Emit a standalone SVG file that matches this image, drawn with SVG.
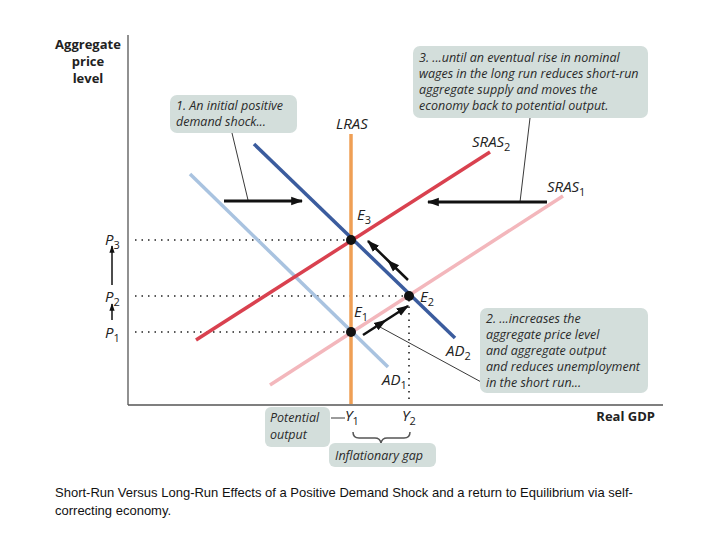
<svg xmlns="http://www.w3.org/2000/svg" width="720" height="540" viewBox="0 0 720 540">
<style>
.ax{stroke:#555;stroke-width:1.3;fill:none}
.lbl{font-family:"Open Sans","Liberation Sans",sans-serif;font-weight:bold;font-size:13px;fill:#222}
.it{font-family:"Open Sans","Liberation Sans",sans-serif;font-style:italic;font-size:12.5px;fill:#2a2a2a}
.var{font-family:"Open Sans","Liberation Sans",sans-serif;font-style:italic;font-size:15px;fill:#222}
.sub{font-size:11px;font-style:normal}
.box{fill:#d3dedb}
.dot{stroke:#222;stroke-width:1.6;stroke-dasharray:1.5 5;fill:none}
.thin{stroke:#222;stroke-width:0.9;fill:none}
.arr{stroke:#111;stroke-width:3;fill:none}
.cap{font-family:"Liberation Sans",Arial,sans-serif;font-size:13px;fill:#111}
</style>
<defs>
<marker id="ah" viewBox="0 0 10 10" refX="9" refY="5" markerWidth="4" markerHeight="4" orient="auto" markerUnits="strokeWidth"><path d="M0,1.5 L10,5 L0,8.5 Z" fill="#111"/></marker>
<marker id="ah2" viewBox="0 0 10 10" refX="9" refY="5" markerWidth="5" markerHeight="5" orient="auto" markerUnits="strokeWidth"><path d="M0,1.5 L10,5 L0,8.5 Z" fill="#111"/></marker>
</defs>
<rect width="720" height="540" fill="#fff"/>
<g id="axes">
<line class="ax" x1="128" y1="35" x2="128" y2="405"/>
<line class="ax" x1="128" y1="405" x2="663" y2="405"/>
<text class="lbl" text-anchor="middle" x="88" y="49">Aggregate</text>
<text class="lbl" text-anchor="middle" x="88" y="66">price</text>
<text class="lbl" text-anchor="middle" x="88" y="83">level</text>
<text class="lbl" text-anchor="end" x="655" y="421">Real GDP</text>
</g>
<g id="guides">
<line class="dot" x1="135" y1="240" x2="351" y2="240"/>
<line class="dot" x1="135" y1="296" x2="409" y2="296"/>
<line class="dot" x1="135" y1="332" x2="351" y2="332"/>
<line class="dot" x1="409" y1="300" x2="409" y2="403"/>
</g>
<g id="curves">
<line id="AD1" x1="190" y1="174" x2="388" y2="367" stroke="#a9c3e0" stroke-width="3.5"/>
<line id="SRAS1" x1="270" y1="385" x2="563" y2="196" stroke="#f3b7bc" stroke-width="3.5"/>
<line id="LRAS" x1="351" y1="134" x2="351" y2="404" stroke="#ef9f55" stroke-width="3.5"/>
<line id="AD2" x1="254" y1="144" x2="455" y2="338" stroke="#3b5c9e" stroke-width="3.5"/>
<line id="SRAS2" x1="196" y1="340" x2="490" y2="152" stroke="#d9414f" stroke-width="3.5"/>
</g>
<g id="connectors">
<line class="thin" x1="232" y1="133" x2="248" y2="200"/>
<line class="thin" x1="530" y1="118" x2="520" y2="202"/>
<line class="thin" x1="380" y1="327" x2="483" y2="383"/>
<line class="thin" x1="331" y1="418" x2="345" y2="418"/>
<line class="arr" x1="224" y1="201" x2="302" y2="201" marker-end="url(#ah)"/>
<line class="arr" x1="547" y1="202" x2="428" y2="202" marker-end="url(#ah)"/>
<path d="M408,280 L388,260.5 L368,241" stroke="#111" stroke-width="2.5" fill="none" marker-mid="url(#ah2)" marker-end="url(#ah2)"/>
<path d="M363,335 L385.5,320.5 L408,306" stroke="#111" stroke-width="2.5" fill="none" marker-mid="url(#ah2)" marker-end="url(#ah2)"/>
<line x1="112" y1="320" x2="112" y2="304" stroke="#111" stroke-width="1.5" marker-end="url(#ah2)"/>
<line x1="112" y1="285" x2="112" y2="246" stroke="#111" stroke-width="1.5" marker-end="url(#ah2)"/>
<path d="M353,432 Q353,438 359,438 L375,438 Q380,438 381,443 Q382,438 387,438 L404,438 Q410,438 410,432" stroke="#555" stroke-width="1.5" fill="none"/>
</g>
<g id="points">
<circle cx="351" cy="240" r="5" fill="#111"/>
<circle cx="409" cy="296" r="5" fill="#111"/>
<circle cx="351" cy="332" r="5" fill="#111"/>
</g>
<g id="labels">
<text class="var" x="336" y="129">LRAS</text>
<text class="var" x="472" y="147">SRAS<tspan class="sub" dy="4">2</tspan></text>
<text class="var" x="547" y="192">SRAS<tspan class="sub" dy="4">1</tspan></text>
<text class="var" x="357" y="220">E<tspan class="sub" dy="4">3</tspan></text>
<text class="var" x="420" y="302">E<tspan class="sub" dy="4">2</tspan></text>
<text class="var" x="354" y="317">E<tspan class="sub" dy="4">1</tspan></text>
<text class="var" x="446" y="356">AD<tspan class="sub" dy="4">2</tspan></text>
<text class="var" x="382" y="385">AD<tspan class="sub" dy="4">1</tspan></text>
<text class="var" x="105" y="245">P<tspan class="sub" dy="4">3</tspan></text>
<text class="var" x="105" y="302">P<tspan class="sub" dy="4">2</tspan></text>
<text class="var" x="105" y="338">P<tspan class="sub" dy="4">1</tspan></text>
<text class="var" x="345" y="421">Y<tspan class="sub" dy="4">1</tspan></text>
<text class="var" x="402" y="421">Y<tspan class="sub" dy="4">2</tspan></text>
</g>
<g id="callout1">
<rect class="box" x="170" y="95" width="127" height="38" rx="7"/>
<text class="it" x="176" y="110">1. An initial positive</text>
<text class="it" x="176" y="126">demand shock...</text>
</g>
<g id="callout3">
<rect class="box" x="413" y="46" width="235" height="72" rx="7"/>
<text class="it" x="419" y="62">3. ...until an eventual rise in nominal</text>
<text class="it" x="419" y="78">wages in the long run reduces short-run</text>
<text class="it" x="419" y="94">aggregate supply and moves the</text>
<text class="it" x="419" y="110">economy back to potential output.</text>
</g>
<g id="callout2">
<rect class="box" x="480" y="308" width="168" height="85" rx="7"/>
<text class="it" x="486" y="323">2. ...increases the</text>
<text class="it" x="486" y="339">aggregate price level</text>
<text class="it" x="486" y="355">and aggregate output</text>
<text class="it" x="486" y="371">and reduces unemployment</text>
<text class="it" x="486" y="387">in the short run...</text>
</g>
<g id="potential">
<rect class="box" x="265" y="407" width="65" height="40" rx="6"/>
<text class="it" x="270" y="422">Potential</text>
<text class="it" x="270" y="439">output</text>
</g>
<g id="gap">
<rect class="box" x="329" y="443" width="107" height="24" rx="6"/>
<text class="it" x="335" y="460">Inflationary gap</text>
</g>
<g id="caption">
<text class="cap" x="55" y="497">Short-Run Versus Long-Run Effects of a Positive Demand Shock and a return to Equilibrium via self-</text>
<text class="cap" x="55" y="515">correcting economy.</text>
</g>
</svg>
